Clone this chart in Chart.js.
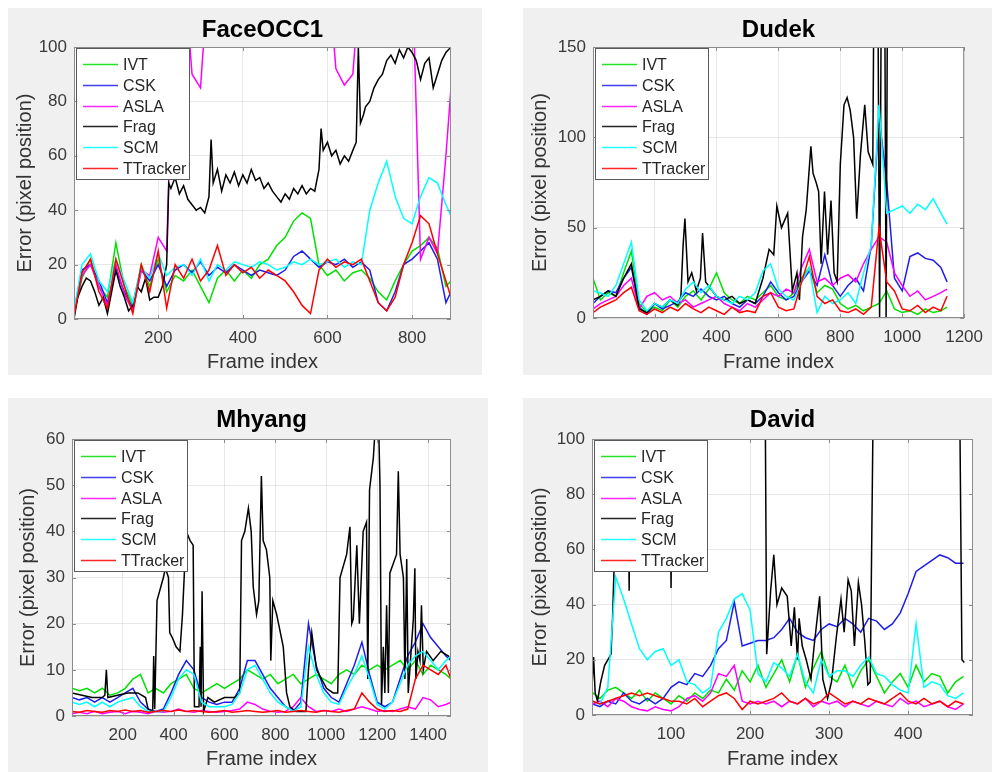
<!DOCTYPE html>
<html>
<head>
<meta charset="utf-8">
<script src="https://cdn.jsdelivr.net/npm/chart.js@4.4.1/dist/chart.umd.min.js"></script>
<style>
  body { margin: 0; background: #fff; width: 1005px; height: 772px; position: relative; overflow: hidden; }
  .panel { position: absolute; background: #f0f0f0; }
  .panel canvas { display: block; }
</style>
</head>
<body>
<div class="panel" style="left:8px;top:8px;width:474px;height:367px"><canvas id="face" width="474" height="367"></canvas></div>
<div class="panel" style="left:523px;top:8px;width:469px;height:367px"><canvas id="dudek" width="469" height="367"></canvas></div>
<div class="panel" style="left:8px;top:398px;width:480px;height:374px"><canvas id="mhyang" width="480" height="374"></canvas></div>
<div class="panel" style="left:523px;top:398px;width:469px;height:374px"><canvas id="david" width="469" height="374"></canvas></div>
<script>
// tracker names, in plotting order
const trackers = ['IVT', 'CSK', 'ASLA', 'Frag', 'SCM', 'TTracker'];
const lineColors = ['rgb(0,225,0)', 'rgb(30,30,235)', 'rgb(255,0,255)', 'rgb(0,0,0)', 'rgb(0,255,255)', 'rgb(255,0,0)'];

// ---- FaceOCC1 ----
const faceFrames = [1,20,40,60,80,100,120,140,160,180,200,220,240,260,280,300,320,340,360,380,400,420,440,460,480,500,520,540,560,580,600,620,640,660,680,700,720,740,760,780,800,820,840,860,880,892];
const faceIVT  = [2,15,22,12,8,28,12,5,20,12, 22,10,16,14,18,12,6,15,18,14, 18,15,20,22,27,30,36,39,37,20, 16,18,14,17,18,15,10,7,14,20, 25,27,30,26,12,14];
const faceCSK  = [3,18,20,14,6,18,10,4,18,14, 20,12,18,20,17,21,16,19,17,20, 18,16,18,17,16,18,23,25,22,19, 21,20,22,19,21,18,6,3,10,20, 22,25,28,22,6,10];
const faceASLA = [2,16,20,12,5,20,9,3,18,16, 30,25,130,130,90,85,130,130,130,130, 130,130,130,130,130,130,130,130,130,130, 130,92,86,90,130,130,130,130,130,130, 130,22,30,24,60,85];
const faceSCM  = [3,20,24,14,10,22,14,6,19,15, 24,16,19,20,16,22,14,20,18,21, 20,19,21,20,18,19,21,20,22,20, 21,22,19,21,20,40,50,58,45,37, 35,45,52,50,42,38];
const faceTT   = [1,17,22,10,4,22,12,2,20,10, 25,4,20,15,22,14,18,27,16,20, 17,19,15,18,16,14,10,5,2,18, 22,19,21,20,22,14,6,3,8,20, 28,38,35,24,14,8];
const faceFragFrames = [1,10,20,30,40,50,60,70,80,90,100,110,120,130,140,150,160,170,180,190,200,210,220,225,230,240,250,260,270,280,290,300,310,320,325,330,340,350,360,370,380,390,400,410,420,430,440,450,460,470,480,490,500,510,520,530,540,550,560,570,580,585,590,600,610,620,630,640,650,660,668,673,678,685,690,700,710,720,730,740,750,760,770,780,790,800,810,820,830,840,850,860,870,880,892];
const faceFrag = [0,8,12,15,14,10,5,8,2,10,18,12,8,3,5,12,10,15,7,8,8,12,20,50,48,52,46,49,44,42,40,41,39,45,66,50,55,47,53,50,54,49,53,50,55,51,52,48,50,47,45,43,46,44,48,46,49,46,48,47,55,70,62,65,60,62,57,60,58,62,65,100,72,75,78,80,85,88,90,95,97,94,99,96,100,98,95,88,94,96,85,90,95,98,100];

// ---- Dudek ----
const dudekFrames = [1,25,50,75,100,125,150,175,200,225,250,275,300,325,350,375,400,425,450,475,500,525,550,575,600,625,650,675,700,725,750,775,800,825,850,875,900,925,950,975,1000,1025,1050,1075,1100,1125,1145];
const dudekIVT  = [22,10,14,12,25,37,8,3,6,4, 10,6,12,15,10,16,25,14,10,8, 12,10,14,18,12,10,14,22,28,14, 18,16,8,5,7,4,6,8,15,5, 3,4,2,5,3,4,6];
const dudekCSK  = [8,12,15,14,22,28,6,2,8,5, 7,9,14,12,16,12,10,12,8,6, 10,8,12,20,14,10,12,20,26,18, 35,18,12,18,22,15,40,112,75,22, 15,34,36,33,32,28,20];
const dudekASLA = [5,8,10,12,18,22,5,12,14,10, 12,8,10,6,8,10,12,8,6,4, 8,6,10,14,12,16,14,28,38,20, 22,18,22,24,20,30,38,45,42,25, 18,12,15,10,12,14,16];
const dudekSCM  = [15,14,12,18,30,42,10,4,8,6, 10,8,16,20,14,18,12,10,8,12, 10,14,26,30,16,12,10,20,28,3, 12,8,10,14,8,25,40,118,58,60, 62,58,63,60,66,58,52];
const dudekTT   = [3,6,8,10,14,17,4,2,5,3, 6,4,8,5,3,6,4,2,6,3, 4,3,12,14,6,4,5,20,34,12, 8,10,4,3,5,2,6,50,20,15, 5,4,7,3,6,4,12];
const dudekFragFrames = [1,25,50,75,100,125,150,175,200,225,250,275,285,292,298,308,320,335,348,355,365,400,425,450,475,500,525,550,570,585,595,610,630,645,660,668,678,690,705,712,722,730,738,749,759,770,780,790,800,812,822,832,843,853,865,879,890,905,908,922,927,932,944,948,952,1145];
const dudekFrag = [10,12,15,12,22,30,5,3,8,6,10,7,12,40,55,20,25,15,22,47,20,12,10,12,8,10,8,22,38,35,62,50,58,15,25,10,45,60,95,80,75,70,30,70,35,65,25,20,85,118,122,115,100,55,90,118,92,85,165,165,0,165,165,0,165,165];

// ---- Mhyang ----
const mhyangFrames = [1,30,60,90,120,150,180,210,240,270,300,330,360,390,420,450,480,510,540,570,600,630,660,690,720,750,780,810,840,870,900,930,960,990,1020,1050,1080,1110,1140,1170,1200,1230,1260,1290,1320,1350,1380,1410,1440,1470,1490];
const mhyangIVT  = [6,5.5,6,5,6,4.5,5,6,8,9, 5,6,5,7,8,9,6,5,6,7, 6,7,8,10,9,8,9,7,8,9, 7,8,9,8,7,9,10,9,11,10, 11,10,11,12,10,12,9,11,10,9, 8];
const mhyangCSK  = [4,3.5,4,3,4,3,4,5,6,3, 1.5,1,1.5,5,9,12,10,4,3,2.5, 3,3,6,12,12,9,6,4,2,1, 3,20,11,6,4,3,7,11,16,9, 3,2,3,8,13,16,20,17,15,13, 12];
const mhyangASLA = [0.5,0.8,0.5,1,0.5,0.8,1,0.5,1,0.8, 0.5,1,0.8,1,1.5,1,0.8,1.2,1,0.8, 1,1.2,1.5,3,2.5,1.5,1,0.8,1,2, 4,2,1,1.2,1,1.5,1,1.5,2,1.5, 1,1.2,1,1.5,2,1.5,4,3.5,2,2.5, 3];
const mhyangSCM  = [3,2.5,3,2,3,2,3,3.5,4,2, 1,1,1,4,8,10,9,3,2,2, 2,2.5,5,10,11,8,5,3,2,1, 2,15,9,5,3,2.5,6,9,13,8, 2.5,1.5,3,7,11,13,14,12,10,12, 13];
const mhyangTT   = [1,0.8,1.2,1,0.8,1.2,1,1.3,1,1.2, 0.8,1,1.2,1,1.3,1,1.2,1,0.8,1, 1.2,0.8,1,1.2,1,0.8,1,1.2,0.8,1, 1.2,1,0.8,1.2,1,0.8,1.2,1.5,5,3, 1.5,1,1.2,1,1.5,8,11,10,9,11, 8];
const mhyangFragFrames = [1,40,80,120,130,136,142,180,220,260,290,300,318,322,326,335,345,360,368,380,385,395,410,425,435,450,465,477,482,500,505,508,512,518,535,560,600,640,660,667,680,694,705,713,726,735,745,752,765,778,782,790,805,831,844,857,880,920,930,943,962,1001,1027,1045,1054,1080,1093,1100,1106,1120,1130,1145,1158,1163,1170,1185,1195,1205,1211,1217,1224,1230,1237,1244,1250,1263,1276,1283,1290,1303,1309,1316,1322,1342,1348,1352,1360,1368,1374,1381,1394,1420,1450,1480,1490];
const mhyangFrag = [5,4.5,4,4,4.5,10,4,4.5,5,5,4,1.5,1,13,1.5,25,27,30,32,30,18,17,15,14,22,40,38,37,2,2,15,2,27,1,4,3,4,4,5,38,40,45,40,28,22,25,52,38,36,30,12,25,22,15,5,2,1,1,10,18,10,6,5,5,30,35,41,20,21,37,20,40,42,8,49,56,65,65,50,2.5,15,5,24,5,31,33,35,53,35,30,8,34,5,21,32,8,14,12,24,10,14,12,14,13,12];

// ---- David ----
const davidFrames = [1,10,20,30,40,50,60,70,80,90,100,110,120,130,140,150,160,170,180,190,200,210,220,230,240,250,260,270,280,290,300,310,320,330,340,350,360,370,380,390,400,410,420,430,440,450,460,470];
const davidIVT  = [8,6,9,10,8,6,9,5,8,6, 4,7,5,8,6,9,8,13,9,16, 12,18,10,15,20,12,22,10,17,23, 14,12,18,10,16,20,14,8,12,15, 10,18,12,15,14,8,12,14];
const davidCSK  = [4,3,5,4,8,5,4,6,4,6, 10,12,11,15,14,18,24,27,41,25, 26,27,27,28,31,35,30,28,27,31, 33,32,35,33,30,35,34,31,33,37, 44,52,54,56,58,57,55,55];
const davidASLA = [4,5,3,6,5,3,2,1.5,3,2, 1.5,3,6,7,5,8,15,14,18,5, 4,5,4,5,3,5,4,6,3,5, 4,5,3,5,4,3,5,4,3,6, 4,5,3,4,5,3,2,4];
const davidSCM  = [5,4,10,50,42,33,24,20,23,24, 18,20,12,11,8,10,30,35,42,44, 38,15,12,19,17,14,22,12,8,20, 14,16,16,14,18,21,15,14,11,9, 8,33,10,12,11,7,6,8];
const davidTT   = [5,4,5,6,7,8,7,8,7,6, 5,5,4,6,3,5,7,8,6,2, 5,4,5,6,8,5,4,6,4,5, 8,6,4,5,4,6,5,4,6,8, 5,4,6,4,5,3,5,4];
const davidFragFrames = [0,2,4,7,11,16,20,24,26,28,32,45,47,49,98,100,102,219,221,226,230,234,240,247,252,256,260,262,266,271,277,281,288,292,298,303,309,315,319,324,328,332,337,341,345,349,352,356,465,468,471];
const davidFrag = [10,21,8,5,12,18,20,22,35,54,120,120,45,120,120,46,120,120,22,45,58,40,46,43,25,39,20,35,25,20,13,25,43,13,6,12,28,42,30,49,45,25,48,40,27,11,12,120,120,20,19];

const FONT = "'Liberation Sans', Arial, Helvetica, sans-serif";

function pts(xs, ys) {
    return xs.map((x, i) => ({ x: x, y: ys[i] }));
}

// axes box, inward ticks, white plot background and the boxed legend
const matlabLook = {
    id: 'matlabLook',
    beforeDraw(chart) {
        const { ctx, chartArea: a } = chart;
        ctx.save();
        ctx.fillStyle = '#ffffff';
        ctx.fillRect(a.left, a.top, a.width, a.height);
        ctx.restore();
    },
    afterDatasetsDraw(chart) {
        const { ctx, chartArea: a, scales } = chart;
        ctx.save();
        ctx.strokeStyle = '#8c8c8c';
        ctx.lineWidth = 1;
        ctx.strokeRect(a.left + 0.5, a.top + 0.5, a.width - 1, a.height - 1);
        ctx.beginPath();
        scales.x.ticks.forEach(t => {
            const px = Math.round(scales.x.getPixelForValue(t.value)) + 0.5;
            ctx.moveTo(px, a.bottom); ctx.lineTo(px, a.bottom - 4);
            ctx.moveTo(px, a.top); ctx.lineTo(px, a.top + 4);
        });
        scales.y.ticks.forEach(t => {
            const py = Math.round(scales.y.getPixelForValue(t.value)) + 0.5;
            ctx.moveTo(a.left, py); ctx.lineTo(a.left + 4, py);
            ctx.moveTo(a.right, py); ctx.lineTo(a.right - 4, py);
        });
        ctx.stroke();

        const lx = a.left + 2, ly = a.top + 1, w = 113, h = 131;
        ctx.fillStyle = '#ffffff';
        ctx.fillRect(lx, ly, w, h);
        ctx.strokeStyle = '#5a5a5a';
        ctx.strokeRect(lx + 0.5, ly + 0.5, w, h);
        ctx.font = '16px ' + FONT;
        ctx.textBaseline = 'middle';
        chart.data.datasets.forEach((d, i) => {
            const y = Math.round(ly + 16 + i * 20.8) + 0.5;
            ctx.globalAlpha = 0.85;
            ctx.strokeStyle = d.borderColor;
            ctx.lineWidth = 1.5;
            ctx.beginPath();
            ctx.moveTo(lx + 7, y);
            ctx.lineTo(lx + 42, y);
            ctx.stroke();
            ctx.globalAlpha = 1;
            ctx.fillStyle = '#262626';
            ctx.fillText(d.label, lx + 47, y + 1);
        });
        ctx.restore();
    }
};

function makeChart(id, o) {
    const ctx = document.getElementById(id).getContext('2d');
    return new Chart(ctx, {
        type: 'line',
        data: {
            datasets: o.series.map((s, i) => ({
                label: trackers[i],
                data: s,
                borderColor: lineColors[i],
                borderWidth: 1.5,
                pointRadius: 0,
                tension: 0,
                order: 6 - i
            }))
        },
        options: {
            responsive: false,
            animation: false,
            events: [],
            layout: { padding: { left: 0, right: o.padRight, top: 0, bottom: 0 } },
            plugins: {
                legend: { display: false },
                tooltip: { enabled: false },
                title: {
                    display: true,
                    text: o.title,
                    fullSize: false,
                    color: '#000',
                    font: { family: FONT, size: 24, weight: 'bold' },
                    padding: { top: 7.6, bottom: o.titleGap }
                }
            },
            scales: {
                x: {
                    type: 'linear',
                    min: o.xMin,
                    max: o.xMax,
                    afterFit: s => { s.height = o.xHeight; },
                    afterBuildTicks: s => { s.ticks = o.xTicks.map(v => ({ value: v })); },
                    ticks: { font: { family: FONT, size: 17 }, color: '#3a3a3a', padding: 9, maxRotation: 0, autoSkip: false, callback: v => String(v) },
                    grid: { color: 'rgba(0,0,0,0.09)', drawTicks: false },
                    border: { display: false },
                    title: { display: true, text: 'Frame index', color: '#333', font: { family: FONT, size: 20 }, padding: { top: 0, bottom: 1 } }
                },
                y: {
                    min: 0,
                    max: o.yMax,
                    afterFit: s => { s.width = o.yWidth; },
                    afterBuildTicks: s => { s.ticks = o.yTicks.map(v => ({ value: v })); },
                    ticks: { font: { family: FONT, size: 17 }, color: '#3a3a3a', padding: 7, autoSkip: false, callback: v => String(v) },
                    grid: { color: 'rgba(0,0,0,0.09)', drawTicks: false },
                    border: { display: false },
                    title: { display: true, text: 'Error (pixel position)', color: '#333', font: { family: FONT, size: 20 }, padding: { top: o.yTitlePad, bottom: 0 } }
                }
            }
        },
        plugins: [matlabLook]
    });
}

makeChart('face', {
    title: 'FaceOCC1',
    series: [pts(faceFrames, faceIVT), pts(faceFrames, faceCSK), pts(faceFrames, faceASLA),
             pts(faceFragFrames, faceFrag), pts(faceFrames, faceSCM), pts(faceFrames, faceTT)],
    xMin: 1, xMax: 892, xTicks: [200, 400, 600, 800],
    yMax: 100, yTicks: [0, 20, 40, 60, 80, 100],
    yWidth: 66, xHeight: 56, padRight: 31, titleGap: 2.6, yTitlePad: 5
});

makeChart('dudek', {
    title: 'Dudek',
    series: [pts(dudekFrames, dudekIVT), pts(dudekFrames, dudekCSK), pts(dudekFrames, dudekASLA),
             pts(dudekFragFrames, dudekFrag), pts(dudekFrames, dudekSCM), pts(dudekFrames, dudekTT)],
    xMin: 1, xMax: 1200, xTicks: [200, 400, 600, 800, 1000, 1200],
    yMax: 150, yTicks: [0, 50, 100, 150],
    yWidth: 70, xHeight: 57, padRight: 19, titleGap: 2.6, yTitlePad: 5
});

makeChart('mhyang', {
    title: 'Mhyang',
    series: [pts(mhyangFrames, mhyangIVT), pts(mhyangFrames, mhyangCSK), pts(mhyangFrames, mhyangASLA),
             pts(mhyangFragFrames, mhyangFrag), pts(mhyangFrames, mhyangSCM), pts(mhyangFrames, mhyangTT)],
    xMin: 1, xMax: 1490, xTicks: [200, 400, 600, 800, 1000, 1200, 1400],
    yMax: 60, yTicks: [0, 10, 20, 30, 40, 50, 60],
    yWidth: 64, xHeight: 56, padRight: 37, titleGap: 4.6, yTitlePad: 8
});

makeChart('david', {
    title: 'David',
    series: [pts(davidFrames, davidIVT), pts(davidFrames, davidCSK), pts(davidFrames, davidASLA),
             pts(davidFragFrames, davidFrag), pts(davidFrames, davidSCM), pts(davidFrames, davidTT)],
    xMin: 0, xMax: 482, xTicks: [100, 200, 300, 400],
    yMax: 100, yTicks: [0, 20, 40, 60, 80, 100],
    yWidth: 69, xHeight: 57, padRight: 19, titleGap: 4.6, yTitlePad: 5
});
</script>
</body>
</html>
